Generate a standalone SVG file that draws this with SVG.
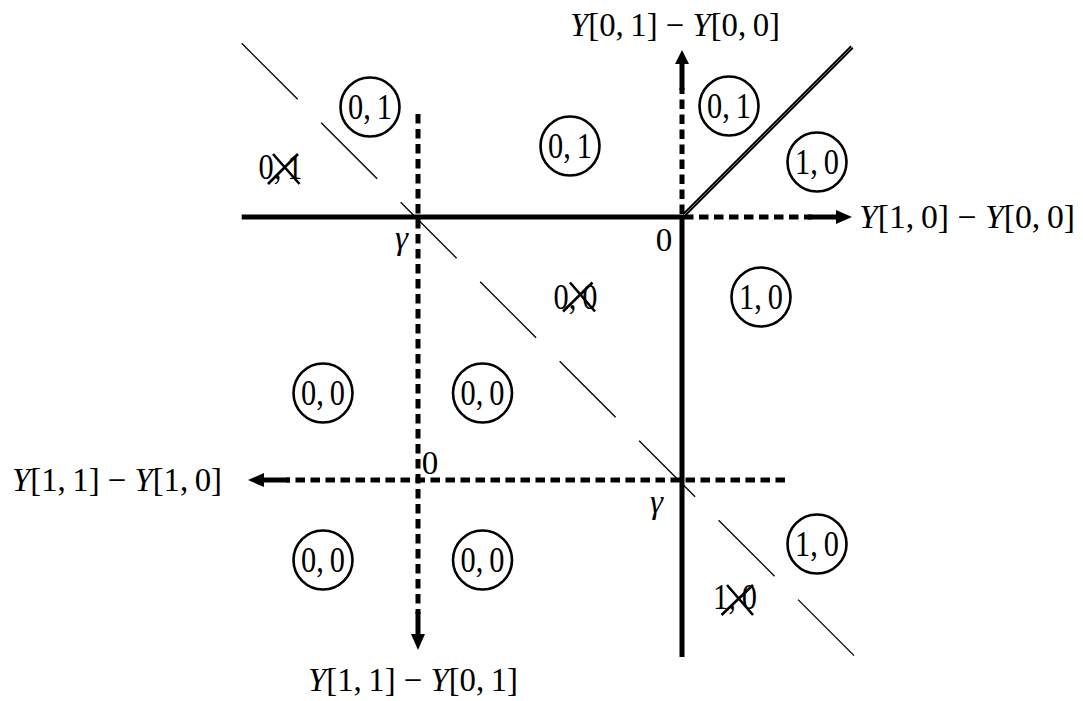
<svg xmlns="http://www.w3.org/2000/svg" width="1083" height="701" viewBox="0 0 1083 701">
<style>
.solid{stroke:#000;stroke-width:5;fill:none}
.dash{stroke:#000;stroke-width:5;fill:none;stroke-dasharray:9.5 5.5}
.diag{stroke:#000;stroke-width:1.3;fill:none;stroke-dasharray:79.2 33.2}
.head{fill:#000;stroke:none}
.lbl{font-family:"Liberation Serif",serif;font-size:35px;fill:#000}
.ax{font-family:"Liberation Serif",serif;font-size:33px;fill:#000}
.it{font-style:italic}
.circ{fill:none;stroke:#000;stroke-width:2.6}
.cross{stroke:#000;stroke-width:2.6}
</style>
<rect width="1083" height="701" fill="#fff"/>
<g id="connectors">
  <line class="diag" x1="241.7" y1="43.3" x2="856" y2="657.6"/>
  <line class="solid" x1="241.7" y1="217" x2="684" y2="217"/>
  <line class="solid" x1="682" y1="217" x2="682" y2="657"/>
  <line class="dash" x1="684" y1="217" x2="812" y2="217"/>
  <line class="solid" x1="808" y1="217" x2="838" y2="217"/>
  <polygon class="head" points="852,217 836,210 836,224"/>
  <line class="dash" x1="682" y1="214" x2="682" y2="88"/>
  <line class="solid" x1="682" y1="90" x2="682" y2="61"/>
  <polygon class="head" points="682,50 675,64 689,64"/>
  <line class="dash" x1="418" y1="114" x2="418" y2="614"/>
  <line class="solid" x1="418" y1="612" x2="418" y2="636"/>
  <polygon class="head" points="418,650 411,634 425,634"/>
  <line class="dash" x1="785" y1="480" x2="286" y2="480"/>
  <line class="solid" x1="290" y1="480" x2="261" y2="480"/>
  <polygon class="head" points="248,480 264,473 264,487"/>
  <line x1="684" y1="215" x2="852" y2="47" stroke="#000" stroke-width="4.2"/>
  <line x1="684" y1="215" x2="852" y2="47" stroke="#aaa" stroke-width="0.8"/>
</g>
<g id="axis-labels">
  <text class="ax" x="570" y="36" textLength="210" lengthAdjust="spacingAndGlyphs"><tspan class="it">Y</tspan>[0,&#8201;1] − <tspan class="it">Y</tspan>[0,&#8201;0]</text>
  <text class="ax" x="859" y="228" textLength="216" lengthAdjust="spacingAndGlyphs"><tspan class="it">Y</tspan>[1,&#8201;0] − <tspan class="it">Y</tspan>[0,&#8201;0]</text>
  <text class="ax" x="12" y="491" textLength="210" lengthAdjust="spacingAndGlyphs"><tspan class="it">Y</tspan>[1,&#8201;1] − <tspan class="it">Y</tspan>[1,&#8201;0]</text>
  <text class="ax" x="308" y="691" textLength="210" lengthAdjust="spacingAndGlyphs"><tspan class="it">Y</tspan>[1,&#8201;1] − <tspan class="it">Y</tspan>[0,&#8201;1]</text>
  <text class="ax" x="664" y="251" text-anchor="middle">0</text>
  <text class="ax" x="430" y="474" text-anchor="middle">0</text>
  <text class="ax it" x="401.5" y="249" text-anchor="middle">γ</text>
  <text class="ax it" x="656.5" y="513" text-anchor="middle">γ</text>
</g>
<g id="n-01-a"><circle class="circ" cx="370" cy="107" r="29.5"/><text class="lbl" x="370" y="118.5" text-anchor="middle" textLength="44" lengthAdjust="spacingAndGlyphs">0,&#8201;1</text></g>
<g id="n-01-b"><circle class="circ" cx="570" cy="146" r="29.5"/><text class="lbl" x="570" y="157.5" text-anchor="middle" textLength="44" lengthAdjust="spacingAndGlyphs">0,&#8201;1</text></g>
<g id="n-01-c"><circle class="circ" cx="729" cy="106" r="29.5"/><text class="lbl" x="729" y="117.5" text-anchor="middle" textLength="44" lengthAdjust="spacingAndGlyphs">0,&#8201;1</text></g>
<g id="n-10-a"><circle class="circ" cx="817" cy="162" r="29.5"/><text class="lbl" x="817" y="173.5" text-anchor="middle" textLength="44" lengthAdjust="spacingAndGlyphs">1,&#8201;0</text></g>
<g id="n-10-b"><circle class="circ" cx="761" cy="297" r="29.5"/><text class="lbl" x="761" y="308.5" text-anchor="middle" textLength="44" lengthAdjust="spacingAndGlyphs">1,&#8201;0</text></g>
<g id="n-10-c"><circle class="circ" cx="817" cy="544" r="29.5"/><text class="lbl" x="817" y="555.5" text-anchor="middle" textLength="44" lengthAdjust="spacingAndGlyphs">1,&#8201;0</text></g>
<g id="n-00-a"><circle class="circ" cx="323" cy="393" r="29.5"/><text class="lbl" x="323" y="404.5" text-anchor="middle" textLength="44" lengthAdjust="spacingAndGlyphs">0,&#8201;0</text></g>
<g id="n-00-b"><circle class="circ" cx="482.5" cy="393" r="29.5"/><text class="lbl" x="482.5" y="404.5" text-anchor="middle" textLength="44" lengthAdjust="spacingAndGlyphs">0,&#8201;0</text></g>
<g id="n-00-c"><circle class="circ" cx="323" cy="560" r="29.5"/><text class="lbl" x="323" y="571.5" text-anchor="middle" textLength="44" lengthAdjust="spacingAndGlyphs">0,&#8201;0</text></g>
<g id="n-00-d"><circle class="circ" cx="482.5" cy="560" r="29.5"/><text class="lbl" x="482.5" y="571.5" text-anchor="middle" textLength="44" lengthAdjust="spacingAndGlyphs">0,&#8201;0</text></g>
<g id="x-01"><text class="lbl" x="258.5" y="179" textLength="44" lengthAdjust="spacingAndGlyphs">0,&#8201;1</text><line class="cross" x1="268" y1="184" x2="298" y2="154"/><line class="cross" x1="273" y1="154" x2="299.5" y2="184"/></g>
<g id="x-00"><text class="lbl" x="553.5" y="309" textLength="44" lengthAdjust="spacingAndGlyphs">0,&#8201;0</text><line class="cross" x1="563" y1="311.5" x2="592.5" y2="282.5"/><line class="cross" x1="570" y1="282.5" x2="595" y2="311.5"/></g>
<g id="x-10"><text class="lbl" x="713" y="609" textLength="44" lengthAdjust="spacingAndGlyphs">1,&#8201;0</text><line class="cross" x1="721.5" y1="615" x2="753" y2="585"/><line class="cross" x1="727" y1="585" x2="753" y2="615"/></g>
</svg>
